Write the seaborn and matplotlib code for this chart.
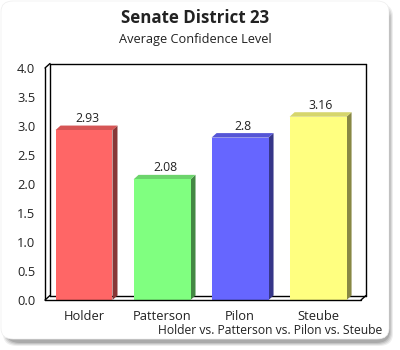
import matplotlib
matplotlib.use("Agg")
import matplotlib.pyplot as plt
import matplotlib.transforms as mtransforms
from matplotlib.patches import FancyBboxPatch, Polygon
from matplotlib.lines import Line2D
import seaborn as sns
import pandas as pd

# ---- data ----
candidates = ["Holder", "Patterson", "Pilon", "Steube"]
confidence = [2.93, 2.08, 2.8, 3.16]
value_labels = ["2.93", "2.08", "2.8", "3.16"]
front_colors = ["#FF6666", "#80FF80", "#6666FF", "#FFFF80"]
side_colors = ["#883636", "#448844", "#363688", "#888844"]
top_colors = ["#D65555", "#6CD46C", "#5555D6", "#D6D66C"]
yticks = [0.0, 0.5, 1.0, 1.5, 2.0, 2.5, 3.0, 3.5, 4.0]
title = "Senate District 23"
subtitle = "Average Confidence Level"
caption = "Holder vs. Patterson vs. Pilon vs. Steube"

sns.set_style("white")
plt.rcParams["font.family"] = ["Open Sans", "DejaVu Sans"]
TXT = "#222222"

W, H, DPI = 400, 350, 100
fig = plt.figure(figsize=(W / DPI, H / DPI), dpi=DPI)
fig.patch.set_facecolor("white")

def px(x, y):
    return (x / W, 1 - y / H)

# rounded panel with soft shadow (layered)
for k, a in zip(range(4), [0.10, 0.14, 0.18, 0.25]):
    grow = 3 - k
    sh = FancyBboxPatch(px(6 - grow, 343 + grow), (384 + 2 * grow) / W, (336 + 2 * grow) / H,
                        boxstyle="round,pad=0,rounding_size=0.035",
                        transform=fig.transFigure, facecolor="#606060",
                        edgecolor="none", alpha=a, zorder=0)
    fig.patches.append(sh)
panel = FancyBboxPatch(px(1, 339), 388 / W, 338 / H,
                       boxstyle="round,pad=0,rounding_size=0.03",
                       transform=fig.transFigure, facecolor="white",
                       edgecolor="#eeeeee", linewidth=0.5, zorder=1)
fig.patches.append(panel)

# axes: front plane
x0, x1, ytop, ybot = 45, 361, 68, 300
ax = fig.add_axes([x0 / W, (H - ybot) / H, (x1 - x0) / W, (ybot - ytop) / H])
ax.set_zorder(2)
ax.patch.set_alpha(0)

df = pd.DataFrame({"candidate": candidates, "confidence": confidence})
sns.barplot(data=df, x="candidate", y="confidence", hue="candidate",
            palette=front_colors, legend=False, width=0.73,
            saturation=1, ax=ax, zorder=3, edgecolor="none")
ax.set_xlim(-0.5, 3.55)
ax.set_ylim(0, 4.0)
ax.set_yticks(yticks)
ax.set_yticklabels([f"{v:.1f}" for v in yticks])
ax.set_xlabel("")
ax.set_ylabel("")
ax.tick_params(axis="both", length=0, labelsize=9.3, colors=TXT, pad=7)
ax.tick_params(axis="x", pad=7)
for s in ax.spines.values():
    s.set_visible(False)

# 3D depth offset in pixels
DX, DY = 5, 4.5
off = mtransforms.ScaledTranslation(DX / DPI, DY / DPI, fig.dpi_scale_trans)

def line(xs, ys, trans, z=1):
    ax.add_line(Line2D(xs, ys, transform=trans, color="black", lw=1.0,
                       zorder=z, clip_on=False))

back = ax.transAxes + off
line([0, 0], [0, 1], back)
line([0, 1], [1, 1], back)
line([1, 1], [0, 1], back)
line([0, 1], [0, 0], back)
line([0, 0], [0, 1], ax.transAxes, 4)
line([0, 1], [0, 0], ax.transAxes, 4)
for (ax_x, ax_y) in [(0, 0), (0, 1), (1, 0)]:
    p0 = ax.transAxes.transform((ax_x, ax_y))
    ax.add_line(Line2D([p0[0], p0[0] + DX * fig.dpi / DPI],
                       [p0[1], p0[1] + DY * fig.dpi / DPI],
                       transform=None, color="black", lw=1.0, zorder=4,
                       clip_on=False))

# 3D sides and tops built from seaborn's bars
fig.canvas.draw()
for i, bar in enumerate(ax.patches[:len(candidates)]):
    bx, bw, bh = bar.get_x(), bar.get_width(), bar.get_height()
    to_disp = ax.transData
    br = to_disp.transform((bx + bw, 0))
    tl = to_disp.transform((bx, bh))
    tr = to_disp.transform((bx + bw, bh))
    d = (DX, DY)
    side = Polygon([br, tr, (tr[0] + d[0], tr[1] + d[1]), (br[0] + d[0], br[1] + d[1])],
                   closed=True, transform=None, facecolor=side_colors[i],
                   edgecolor="none", zorder=2.9, clip_on=False)
    top = Polygon([tl, tr, (tr[0] + d[0], tr[1] + d[1]), (tl[0] + d[0], tl[1] + d[1])],
                  closed=True, transform=None, facecolor=top_colors[i],
                  edgecolor="none", zorder=2.9, clip_on=False)
    ax.add_patch(side)
    ax.add_patch(top)
    ax.text(bx + bw / 2, bh, value_labels[i], ha="center", va="bottom",
            fontsize=8.8, color=TXT, zorder=5,
            transform=ax.transData + mtransforms.ScaledTranslation(3 / DPI, 5 / DPI, fig.dpi_scale_trans))

fig.text(*px(195, 18), title, ha="center", va="center", fontsize=12.2,
         fontweight="bold", color=TXT, zorder=5)
fig.text(*px(195, 40), subtitle, ha="center", va="center", fontsize=9.2,
         color=TXT, zorder=5)
fig.text(*px(382, 331), caption, ha="right", va="center", fontsize=8.7,
         color=TXT, zorder=5)

fig.savefig("out.png", dpi=DPI)
